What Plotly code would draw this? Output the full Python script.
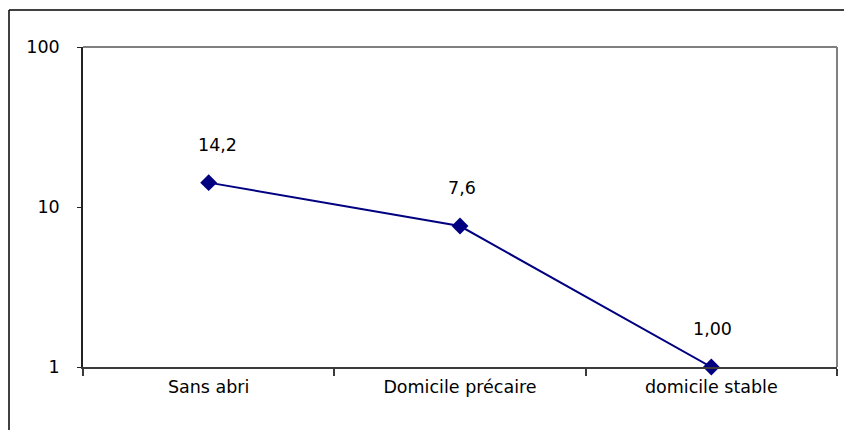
import math
import plotly.graph_objects as go

# Données : catégories de logement et valeurs mesurées
categories = ["Sans abri", "Domicile précaire", "domicile stable"]
valeurs = [14.2, 7.6, 1.00]
decimales = [1, 1, 2]
graduations_y = [1, 10, 100]

navy = "#000080"
font_family = "DejaVu Sans, Verdana, sans-serif"
font_size = 17.5

fig = go.Figure()
fig.add_trace(go.Scatter(
    x=categories,
    y=valeurs,
    mode="lines+markers",
    line=dict(color=navy, width=2),
    marker=dict(symbol="diamond", size=13, color=navy),
    cliponaxis=False,
    hoverinfo="skip",
))

# Étiquettes de valeur (virgule décimale) au-dessus des points
decalages_x = [9, 2, 1]
for cat, v, d, dx in zip(categories, valeurs, decimales, decalages_x):
    fig.add_annotation(
        x=cat, y=math.log10(v), yref="y", xref="x",
        text=f"{v:.{d}f}".replace(".", ","),
        showarrow=False, yshift=38, xshift=dx,
        font=dict(family=font_family, size=font_size, color="#000000"),
    )

plot_h = 430 - 47 - 63
plot_w = 844 - 83 - 7
y_top = (430 - 63 - 10) / plot_h
x_left = (9 - 83) / plot_w

fig.update_layout(
    width=844, height=430,
    margin=dict(l=83, r=7, t=47, b=63),
    paper_bgcolor="white", plot_bgcolor="white",
    showlegend=False,
    font=dict(family=font_family, size=font_size, color="#000000"),
    xaxis=dict(
        type="category",
        range=[-0.5, 2.5],
        showgrid=False, zeroline=False,
        showline=True, linecolor="#3a3a3a", linewidth=2,
        ticks="outside", tickson="boundaries", ticklen=7,
        tickcolor="#3a3a3a", tickwidth=1.5,
        ticklabelstandoff=3,
    ),
    yaxis=dict(
        type="log",
        range=[0, 2],
        tickvals=graduations_y,
        ticktext=[str(t) for t in graduations_y],
        showgrid=False, zeroline=False,
        showline=True, linecolor="#222222", linewidth=1.5,
        ticks="outside", ticklen=4, tickcolor="#222222",
        ticklabelstandoff=14,
    ),
    shapes=[
        # Bordure grise du cadre de tracé (haut et droite)
        dict(type="line", xref="paper", yref="paper", x0=0, x1=1, y0=1, y1=1,
             line=dict(color="#808080", width=2)),
        dict(type="line", xref="paper", yref="paper", x0=1, x1=1, y0=0, y1=1,
             line=dict(color="#808080", width=2)),
        # Cadre extérieur du graphique (haut et gauche)
        dict(type="line", xref="paper", yref="paper",
             x0=x_left, x1=1.2, y0=y_top, y1=y_top,
             line=dict(color="#000000", width=1.5)),
        dict(type="line", xref="paper", yref="paper",
             x0=x_left, x1=x_left, y0=-1, y1=y_top,
             line=dict(color="#000000", width=1.5)),
    ],
)

fig.write_html("out.html")
